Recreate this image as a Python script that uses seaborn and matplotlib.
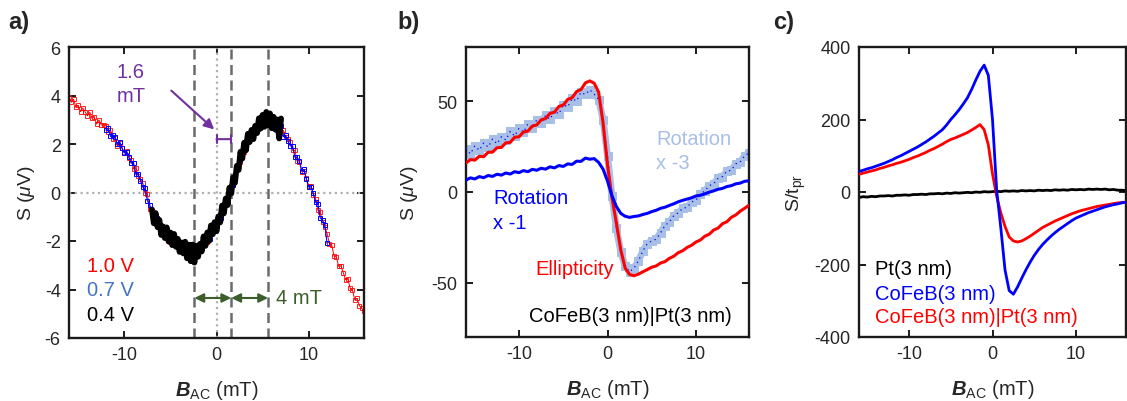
import numpy as np
import pandas as pd
import matplotlib
matplotlib.use("Agg")
import matplotlib.pyplot as plt
import seaborn as sns

# ---------------- data ----------------
# (a) signal S (uV) vs field for three probe voltages
field_a_red = np.arange(-16, 16.001, 0.25)
s_red_1v0 = [
    3.95, 3.72, 3.84, 3.51, 3.59, 3.33, 3.48, 3.33, 3.16, 3.31, 3.06, 3.10, 2.82, 2.99, 2.78, 2.79,
    2.75, 2.49, 2.59, 2.21, 2.24, 1.93, 2.03, 1.85, 1.66, 1.73, 1.41, 1.35, 0.97, 1.01, 0.68, 0.56,
    0.40, -0.01, -0.06, -0.67, -0.86, -1.20, -1.12, -1.35, -1.54, -1.44, -1.72, -1.73, -2.03, -1.86,
    -2.05, -2.04, -2.05, -2.28, -2.14, -2.47, -2.36, -2.58, -2.37, -2.40, -2.44, -2.12, -2.17, -1.95,
    -2.03, -1.64, -1.62, -1.39, -1.20, -1.16, -0.76, -0.82, -0.46, -0.40, 0.08, 0.35, 0.61, 1.13,
    1.26, 1.62, 1.67, 2.11, 2.18, 2.41, 2.60, 2.57, 2.89, 2.71, 2.94, 2.78, 3.03, 2.96, 2.86, 3.01,
    2.76, 2.77, 2.47, 2.56, 2.28, 2.21, 2.10, 1.74, 1.74, 1.28, 1.24, 0.85, 0.88, 0.58, 0.26, 0.28,
    -0.09, -0.26, -0.73, -0.79, -1.22, -1.44, -1.70, -2.11, -2.16, -2.62, -2.66, -3.05, -3.02, -3.30,
    -3.59, -3.57, -3.94, -4.03, -4.43, -4.37, -4.67, -4.77, -4.90,
]

field_a_blue = np.arange(-12, 12.001, 0.25)
s_blue_0v7 = [
    2.57, 2.67, 2.31, 2.38, 2.30, 1.98, 2.10, 1.82, 1.63, 1.68, 1.47, 1.21, 1.23, 0.75, 0.76, 0.49,
    0.22, 0.17, -0.34, -0.50, -0.80, -1.15, -1.05, -1.38, -1.57, -1.49, -1.66, -1.87, -1.77, -2.12,
    -1.97, -2.11, -2.23, -2.10, -2.42, -2.30, -2.30, -2.53, -2.30, -2.43, -2.47, -2.17, -2.11, -2.09,
    -1.77, -1.90, -1.54, -1.46, -1.38, -0.98, -1.04, -0.65, -0.40, -0.35, 0.15, 0.32, 0.58, 1.08,
    1.32, 1.48, 1.93, 1.85, 2.26, 2.34, 2.42, 2.75, 2.61, 2.88, 3.00, 2.83, 3.10, 2.93, 2.83, 2.96,
    2.82, 2.63, 2.73, 2.30, 2.36, 2.14, 1.92, 1.92, 1.46, 1.45, 1.30, 0.90, 0.95, 0.55, 0.23, 0.23,
    -0.03, -0.40, -0.47, -1.05, -1.14, -1.35, -2.10,
]

field_a_black = np.round(np.arange(-7, 7.001, 0.2), 2)
s_black_0v4 = [
    -0.70, -1.27, -0.85, -1.43, -1.13, -1.75, -1.40, -1.88, -1.44, -2.02, -1.65, -2.17, -1.71, -2.24,
    -1.91, -2.45, -2.06, -2.51, -2.03, -2.71, -2.15, -2.83, -2.15, -2.89, -2.20, -2.65, -2.12, -2.43,
    -1.81, -2.20, -1.65, -2.00, -1.36, -1.72, -1.22, -1.60, -0.99, -1.23, -0.54, -0.86, -0.25, -0.52,
    0.20, -0.04, 0.62, 0.40, 1.09, 0.93, 1.68, 1.40, 2.05, 1.74, 2.42, 2.08, 2.58, 2.20, 2.75, 2.45,
    3.06, 2.64, 3.20, 2.71, 3.32, 2.78, 3.26, 2.65, 3.12, 2.59, 3.01, 2.23, 3.05,
]

voltage_labels = ["1.0 V", "0.7 V", "0.4 V"]
marker_lines = [-2.4, 1.6, 5.6]

# (b) CoFeB(3 nm)|Pt(3 nm): ellipticity and rotation signals
field_b = np.arange(-16, 16.001, 0.5)
s_ellipticity = [
    16.0, 17.9, 17.6, 19.7, 19.5, 21.9, 22.0, 24.4, 24.6, 27.1, 27.4, 30.2, 30.5, 33.1, 33.6, 36.4,
    37.0, 39.8, 40.5, 43.4, 44.0, 47.2, 48.0, 51.1, 52.0, 55.4, 56.5, 60.2, 61.3, 60.0, 55.0, 38.0,
    15.0, -3.0, -17.0, -32.0, -42.0, -45.5, -46.2, -45.3, -44.0, -42.8, -41.5, -40.8, -39.2, -38.4,
    -36.6, -35.4, -33.5, -32.4, -30.6, -29.4, -27.6, -26.5, -24.4, -23.3, -21.0, -19.9, -17.5, -16.4,
    -14.0, -12.7, -10.6, -9.0, -7.3,
]
s_rotation_x1 = [
    6.6, 7.8, 7.2, 8.5, 7.9, 9.1, 8.6, 9.8, 9.3, 10.5, 9.9, 11.2, 10.7, 11.8, 11.2, 12.5, 12.0, 13.1,
    12.6, 13.9, 13.3, 14.6, 14.1, 15.5, 15.2, 17.0, 16.9, 18.7, 18.1, 18.4, 16.3, 12.6, 6.0, -2.0,
    -8.0, -11.8, -13.4, -14.0, -13.5, -13.2, -12.4, -11.8, -10.8, -10.1, -9.0, -8.4, -7.4, -6.5,
    -5.4, -4.6, -3.9, -3.2, -2.2, -1.8, -1.0, -0.1, 0.6, 1.5, 2.0, 3.0, 3.5, 4.5, 4.9, 5.9, 6.2,
]
s_rotation_x3 = [
    24.0, 21.0, 25.5, 23.0, 27.0, 24.8, 29.2, 26.6, 30.5, 28.7, 33.4, 30.9, 35.2, 33.0, 37.5, 35.3,
    39.8, 37.9, 42.3, 40.1, 44.8, 43.0, 48.2, 46.9, 51.6, 50.2, 55.0, 53.8, 56.4, 54.0, 51.0, 40.0,
    20.0, -2.0, -20.0, -33.0, -41.0, -44.0, -42.0, -38.0, -32.5, -28.5, -27.0, -26.0, -22.5, -18.5,
    -16.5, -13.0, -11.5, -9.0, -8.5, -5.5, -4.5, -1.0, 0.5, 3.5, 4.5, 7.5, 8.5, 11.5, 12.0, 15.5,
    16.5, 20.0, 21.5,
]

# (c) signal normalised by probed thickness for three samples
field_c = np.arange(-16, 16.001, 0.5)
sn_pt = [
    -15, -13, -14, -12, -13, -11, -11, -10, -11, -9, -9, -8, -9, -7, -7, -6, -7, -5, -5, -4, -5, -3,
    -4, -2, -3, -2, -1, -2, 0, -1, 1, 0, 1, 2, 1, 3, 2, 3, 2, 4, 3, 4, 3, 5, 4, 5, 4, 6, 5, 6, 5, 7,
    6, 7, 6, 8, 7, 8, 7, 8, 6, 7, 5, 5, 4,
]
sn_cofeb = [
    57, 60, 64, 67, 71, 75, 79, 84, 89, 95, 100, 106, 112, 118, 124, 131, 138, 146, 154, 163, 172,
    185, 200, 213, 227, 243, 260, 283, 309, 333, 350, 322, 200, 5, -100, -215, -272, -282, -262,
    -238, -215, -194, -175, -159, -145, -133, -122, -112, -103, -95, -87, -79, -72, -67, -62, -57,
    -53, -49, -45, -41, -38, -35, -33, -30, -28,
]
sn_cofeb_pt = [
    49, 52, 55, 58, 61, 65, 68, 72, 75, 79, 82, 86, 90, 95, 99, 104, 109, 115, 120, 126, 132, 139,
    145, 149, 154, 159, 164, 171, 178, 186, 172, 130, 50, -12, -58, -95, -124, -135, -138, -135,
    -129, -122, -114, -106, -98, -92, -86, -80, -75, -70, -65, -60, -56, -52, -49, -46, -43, -40,
    -38, -36, -34, -32, -30, -29, -28,
]
sample_labels = ["Pt(3 nm)", "CoFeB(3 nm)", "CoFeB(3 nm)|Pt(3 nm)"]

# ---------------- style ----------------
sns.set_theme(style="ticks")
plt.rcParams.update({
    "font.family": ["Liberation Sans", "DejaVu Sans"],
    "mathtext.fontset": "custom",
    "mathtext.rm": "Liberation Sans",
    "mathtext.it": "Liberation Sans:italic",
    "mathtext.bf": "Liberation Sans:bold",
    "mathtext.bfit": "Liberation Sans:italic:bold",
    "axes.unicode_minus": False,
})

INK = "#1a1a1a"
RED = "#ff0000"
BLUE = "#0000ff"
LIGHTBLUE = "#a8bfe6"
PURPLE = "#7030a0"
GREEN = "#3b5e2b"
TXT = 14.5

fig = plt.figure(figsize=(11.27, 4.02), dpi=100)
ax_a = fig.add_axes([69 / 1127, 63 / 402, 295 / 1127, 291 / 402])
ax_b = fig.add_axes([466 / 1127, 64 / 402, 283 / 1127, 290 / 402])
ax_c = fig.add_axes([859 / 1127, 64 / 402, 267 / 1127, 290 / 402])


def style_axes(ax):
    for sp in ax.spines.values():
        sp.set_linewidth(1.7)
        sp.set_color(INK)
    ax.tick_params(direction="in", length=5, width=1.4, top=True, right=True,
                   labelsize=13, color=INK, labelcolor="#262626", pad=6)
    ax.set_xlim(-16, 16)
    ax.set_xticks([-10, 0, 10])
    ax.set_xlabel(r"$\mathbfit{B}_{\mathrm{AC}}$ (mT)", fontsize=14.5, color="#262626")
    ax.xaxis.set_label_coords(0.5, -0.138)
    ax.grid(False)


def trace(ax, x, y, **kw):
    df = pd.DataFrame({"B": x, "S": y})
    sns.lineplot(data=df, x="B", y="S", ax=ax, sort=False, estimator=None, legend=False, **kw)


# ---------------- panel a ----------------
ax = ax_a
ax.axhline(0, color="#b0b0b0", lw=1.6, ls=(0, (1, 1.6)), zorder=1)
ax.axvline(0, color="#b0b0b0", lw=1.6, ls=(0, (1, 1.6)), zorder=1)
for xv in marker_lines:
    ax.axvline(xv, color="#6a6a6a", lw=1.8, ls=(0, (4, 2.2)), zorder=1)

trace(ax, field_a_red, s_red_1v0, color=RED, marker="s", lw=0.7, markersize=2.8,
      markerfacecolor="none", markeredgecolor=RED, markeredgewidth=0.6, zorder=2)
trace(ax, field_a_blue, s_blue_0v7, color=BLUE, marker="s", lw=0.8, markersize=3.0,
      markerfacecolor="none", markeredgecolor=BLUE, markeredgewidth=0.7, zorder=3)
trace(ax, field_a_black, s_black_0v4, color="black", lw=4.2, zorder=4)

ax.set_ylim(-6, 6)
ax.set_yticks([-6, -4, -2, 0, 2, 4, 6])
ax.set_ylabel(r"S ($\mu$V)", fontsize=14, color="#262626")
ax.yaxis.set_label_coords(-0.108, 0.5)

for lbl, col, yv in zip(voltage_labels, [RED, "#4472c4", "black"], [-3.03, -3.98, -5.05]):
    ax.text(-14.05, yv, lbl, color=col, fontsize=TXT, va="center", ha="left")

# 4 mT spacing between the dashed markers
ax.annotate("", xy=(marker_lines[0], -4.35), xytext=(marker_lines[1], -4.35),
            arrowprops=dict(arrowstyle="<|-|>,head_length=0.45,head_width=0.22", color=GREEN,
                            lw=1.5, shrinkA=0, shrinkB=0))
ax.annotate("", xy=(marker_lines[1], -4.35), xytext=(marker_lines[2], -4.35),
            arrowprops=dict(arrowstyle="<|-|>,head_length=0.45,head_width=0.22", color=GREEN,
                            lw=1.5, shrinkA=0, shrinkB=0))
ax.text(6.5, -4.35, "4 mT", color=GREEN, fontsize=TXT, va="center", ha="left")

# 1.6 mT offset from zero field
ax.annotate("", xy=(0, 2.2), xytext=(1.6, 2.2),
            arrowprops=dict(arrowstyle="|-|,widthA=0.25,widthB=0.25", color=PURPLE,
                            lw=1.5, shrinkA=0, shrinkB=0))
ax.annotate("", xy=(-0.25, 2.6), xytext=(-4.9, 4.2),
            arrowprops=dict(arrowstyle="-|>,head_length=0.5,head_width=0.25", color=PURPLE,
                            lw=1.5, shrinkA=0, shrinkB=0))
ax.text(-9.3, 4.98, "1.6", color=PURPLE, fontsize=TXT, va="center", ha="center")
ax.text(-9.3, 3.98, "mT", color=PURPLE, fontsize=TXT, va="center", ha="center")
style_axes(ax)

# ---------------- panel b ----------------
ax = ax_b
trace(ax, field_b, s_rotation_x3, color=LIGHTBLUE, lw=5, marker="s", markersize=5.5,
      markerfacecolor=LIGHTBLUE, markeredgecolor=LIGHTBLUE, zorder=2)
trace(ax, field_b, s_rotation_x3, color=BLUE, lw=0.9, linestyle=(0, (1, 3)), zorder=3)
trace(ax, field_b, s_ellipticity, color=RED, lw=2.2, zorder=4)
trace(ax, field_b, s_rotation_x1, color=BLUE, lw=2.2, zorder=5)

ax.set_ylim(-80, 80)
ax.set_yticks([-50, 0, 50])
ax.set_ylabel(r"S ($\mu$V)", fontsize=14, color="#262626")
ax.yaxis.set_label_coords(-0.163, 0.5)

ax.text(-12.9, -3.3, "Rotation", color=BLUE, fontsize=TXT, va="center", ha="left")
ax.text(-12.9, -17.0, "x -1", color=BLUE, fontsize=TXT, va="center", ha="left")
ax.text(5.5, 29.4, "Rotation", color=LIGHTBLUE, fontsize=TXT, va="center", ha="left")
ax.text(5.5, 16.2, "x -3", color=LIGHTBLUE, fontsize=TXT, va="center", ha="left")
ax.text(-8.2, -42.3, "Ellipticity", color=RED, fontsize=TXT, va="center", ha="left")
ax.text(-8.9, -68.0, sample_labels[2], color="black", fontsize=TXT, va="center", ha="left")
style_axes(ax)

# ---------------- panel c ----------------
ax = ax_c
trace(ax, field_c, sn_pt, color="black", lw=2.0, zorder=2)
trace(ax, field_c, sn_cofeb_pt, color=RED, lw=2.0, zorder=3)
trace(ax, field_c, sn_cofeb, color=BLUE, lw=2.0, zorder=4)

ax.set_ylim(-400, 400)
ax.set_yticks([-400, -200, 0, 200, 400])
ax.set_ylabel(r"S/t$_{\mathrm{pr}}$", fontsize=14, color="#262626")
ax.yaxis.set_label_coords(-0.19, 0.5)

for lbl, col, yv in zip(sample_labels, ["black", BLUE, RED], [-211, -279, -343]):
    ax.text(-14.1, yv, lbl, color=col, fontsize=TXT, va="center", ha="left")
style_axes(ax)

# panel letters
for letter, xpix in zip(["a)", "b)", "c)"], [8, 397, 773]):
    fig.text(xpix / 1127, 1 - 23 / 402, letter, fontsize=17, fontweight="bold",
             color="#262626", va="center", ha="left")

fig.savefig("out.png", dpi=100)
